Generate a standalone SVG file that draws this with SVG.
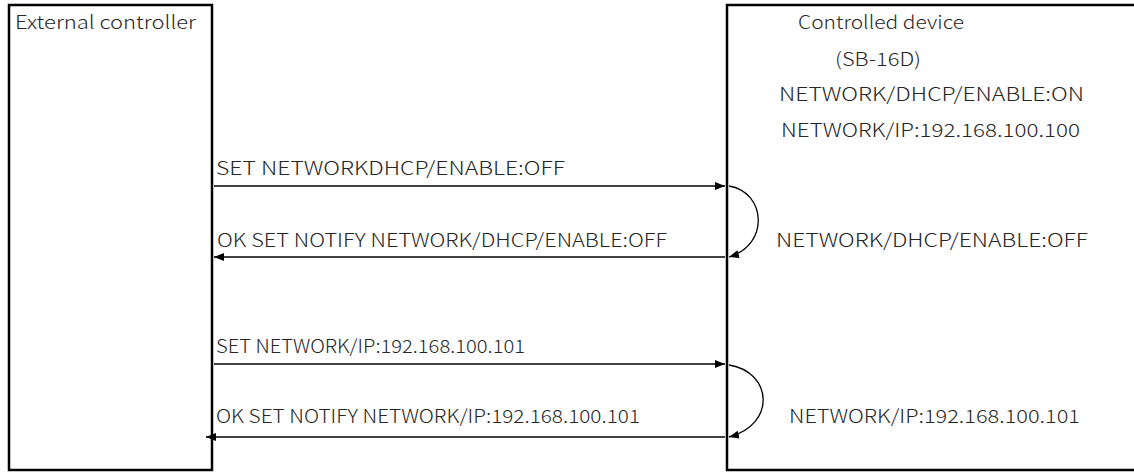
<svg xmlns="http://www.w3.org/2000/svg" width="1134" height="472" viewBox="0 0 1134 472">
  <style>
    .box { fill: none; stroke: #000; stroke-width: 2.5; }
    .msg { stroke: #000; stroke-width: 1.3; fill: none; }
    .loop { stroke: #000; stroke-width: 1.3; fill: none; }
    text { font-family: "Noto Sans CJK JP", "Noto Sans", "Liberation Sans", sans-serif; font-weight: 300; font-size: 18.5px; fill: #262626; }
  </style>
  <defs>
    <marker id="arrow" viewBox="0 0 10 10" refX="10" refY="5" markerWidth="10" markerHeight="10" markerUnits="userSpaceOnUse" orient="auto">
      <path d="M0,1 L10,5 L0,9 z" fill="#000"/>
    </marker>
  </defs>
  <rect width="1134" height="472" fill="#fff"/>

  <g id="external-controller">
    <rect class="box" x="9" y="5" width="203" height="465"/>
    <text x="15" y="29" textLength="181" lengthAdjust="spacingAndGlyphs">External controller</text>
  </g>

  <g id="controlled-device">
    <path class="box" d="M1140,5 H727 V470 H1140" stroke-width="3"/>
    <text x="798" y="29" textLength="166" lengthAdjust="spacingAndGlyphs">Controlled device</text>
    <text x="835" y="66" textLength="86" lengthAdjust="spacingAndGlyphs">(SB-16D)</text>
    <text x="779" y="101" textLength="305" lengthAdjust="spacingAndGlyphs">NETWORK/DHCP/ENABLE:ON</text>
    <text x="781" y="137" textLength="299" lengthAdjust="spacingAndGlyphs">NETWORK/IP:192.168.100.100</text>
    <text x="776" y="247" textLength="312" lengthAdjust="spacingAndGlyphs">NETWORK/DHCP/ENABLE:OFF</text>
    <text x="789" y="423" textLength="291" lengthAdjust="spacingAndGlyphs">NETWORK/IP:192.168.100.101</text>
  </g>

  <g id="connectors">
    <line class="msg" x1="214" y1="186" x2="725" y2="186" marker-end="url(#arrow)"/>
    <line class="msg" x1="725" y1="257" x2="214" y2="257" marker-end="url(#arrow)"/>
    <path class="loop" d="M729,186 C766,192 770,245 729,257" marker-end="url(#arrow)"/>

    <line class="msg" x1="214" y1="364" x2="725" y2="364" marker-end="url(#arrow)"/>
    <line class="msg" x1="725" y1="437" x2="206" y2="437" marker-end="url(#arrow)"/>
    <path class="loop" d="M729,365 C773,372 776,425 729,437" marker-end="url(#arrow)"/>
  </g>

  <g id="labels">
    <text x="216" y="175" textLength="349" lengthAdjust="spacingAndGlyphs">SET NETWORKDHCP/ENABLE:OFF</text>
    <text x="217" y="247" textLength="450" lengthAdjust="spacingAndGlyphs">OK SET NOTIFY NETWORK/DHCP/ENABLE:OFF</text>
    <text x="216" y="353" textLength="309" lengthAdjust="spacingAndGlyphs">SET NETWORK/IP:192.168.100.101</text>
    <text x="216" y="423" textLength="424" lengthAdjust="spacingAndGlyphs">OK SET NOTIFY NETWORK/IP:192.168.100.101</text>
  </g>
</svg>
